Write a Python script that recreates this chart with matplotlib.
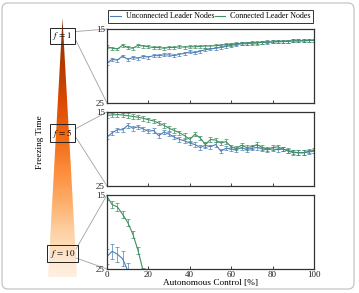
import numpy as np
import matplotlib
matplotlib.use("Agg")
import matplotlib.pyplot as plt
from matplotlib.patches import Polygon, FancyBboxPatch

plt.rcParams['font.family'] = ['Liberation Serif', 'DejaVu Serif']
plt.rcParams['mathtext.fontset'] = 'stix'

# autonomous control [%]
x = np.arange(0, 100.1, 2.5)

# f = 1
unconn_f1 = [19.6, 19.1, 19.2, 18.65, 19.1, 18.85, 18.95, 18.7, 18.8, 18.6, 18.6, 18.5,
             18.5, 18.6, 18.4, 18.3, 18.1, 18.2, 18.0, 17.8, 17.7, 17.6, 17.5, 17.35,
             17.2, 17.1, 17.0, 17.0, 16.9, 16.9, 16.8, 16.8, 16.75, 16.7, 16.7, 16.65,
             16.6, 16.6, 16.6, 16.55, 16.55]
conn_f1 = [17.4, 17.6, 17.7, 17.2, 17.5, 17.6, 17.2, 17.3, 17.4, 17.5, 17.5, 17.6,
           17.5, 17.5, 17.4, 17.45, 17.4, 17.4, 17.35, 17.3, 17.3, 17.25, 17.2, 17.1,
           17.05, 17.0, 16.95, 16.9, 16.85, 16.85, 16.8, 16.75, 16.75, 16.7, 16.7, 16.65,
           16.6, 16.6, 16.6, 16.55, 16.55]

# f = 5
unconn_f5 = [18.4, 17.8, 17.4, 17.4, 16.8, 17.2, 17.0, 17.3, 17.6, 17.5, 18.2, 17.7,
             18.0, 18.4, 18.7, 18.9, 19.2, 19.4, 19.8, 19.5, 19.7, 19.4, 20.3, 19.9,
             20.0, 20.1, 19.8, 20.1, 19.9, 19.8, 20.0, 20.1, 20.0, 20.1, 20.0, 20.3,
             20.5, 20.5, 20.5, 20.4, 20.3]
conn_f5 = [15.45, 15.4, 15.35, 15.4, 15.5, 15.6, 15.7, 15.85, 16.05, 16.2, 16.5, 16.8,
           17.2, 17.5, 17.8, 18.2, 18.7, 18.0, 18.5, 19.4, 18.7, 18.8, 19.2, 19.0,
           19.7, 19.9, 19.5, 19.8, 19.7, 19.4, 19.8, 20.0, 19.8, 19.7, 20.0, 20.2,
           20.4, 20.5, 20.5, 20.3, 20.2]

# f = 10 (the rest leaves the plotted range)
x_f10_unconn = [0, 2.5, 5, 7.5, 10, 12.5]
unconn_f10 = [23.3, 22.6, 23.0, 23.6, 25.2, 27.0]
x_f10_conn = [0, 2.5, 5, 7.5, 10, 12.5, 15, 17.5, 20]
conn_f10 = [15.2, 16.3, 16.6, 17.6, 18.7, 20.3, 22.5, 25.3, 28.0]

err_f1 = 0.2
err_f5 = 0.3
err_f10_unconn = 1.0
err_f10_conn = 0.5

panel_labels = [r'$f\,=\,1$', r'$f\,=\,5$', r'$f\,=\,10$']

blue = '#4f7fb5'
green = '#3f8f62'

W, H = 359, 293
fig = plt.figure(figsize=(W / 100, H / 100), dpi=100)

# background axes in pixel coordinates
bg = fig.add_axes([0, 0, 1, 1], zorder=0)
bg.set_xlim(0, W)
bg.set_ylim(H, 0)
bg.axis('off')

frame = FancyBboxPatch((2, 3), 352, 286, boxstyle='round,pad=0,rounding_size=6',
                       fc='none', ec='#c4c4c4', lw=0.9)
bg.add_patch(frame)

# orange wedge
tip = (62.5, 18)
base_y = 277
tri = Polygon([tip, (48, base_y), (77, base_y)], closed=True, fc='none', ec='none')
bg.add_patch(tri)
t = np.linspace(0, 1, 256)[:, None]
grad = 0.92 - 0.88 * t ** 1.4
img = bg.imshow(grad, cmap='Oranges', vmin=0, vmax=1, aspect='auto',
                extent=[48, 77, base_y, tip[1]], zorder=1)
img.set_clip_path(tri)

panels = [
    (x, unconn_f1, err_f1, x, conn_f1, err_f1),
    (x, unconn_f5, err_f5, x, conn_f5, err_f5),
    (x_f10_unconn, unconn_f10, err_f10_unconn, x_f10_conn, conn_f10, err_f10_conn),
]
tops = [29, 112, 195]
box_y = [36, 133, 253.5]
ax_left, ax_right = 107, 314
ax_h = 74

axes = []
for i, (xu, yu, eu, xc, yc, ec) in enumerate(panels):
    top = tops[i]
    ax = fig.add_axes([ax_left / W, 1 - (top + ax_h) / H, (ax_right - ax_left) / W, ax_h / H],
                      zorder=2)
    ax.errorbar(xu, yu, yerr=eu, color=blue, lw=0.8, elinewidth=0.5, capsize=1.5,
                capthick=0.5, label='Unconnected Leader Nodes')
    ax.errorbar(xc, yc, yerr=ec, color=green, lw=0.8, elinewidth=0.5, capsize=1.5,
                capthick=0.5, label='Connected Leader Nodes')
    ax.set_xlim(0, 100)
    ax.set_ylim(25, 15)
    ax.set_yticks([15, 25])
    ax.set_xticks([0, 20, 40, 60, 80, 100])
    ax.tick_params(direction='in', length=2.5, width=0.6, labelsize=6.5, pad=1.5,
                   colors='#222222')
    if i < 2:
        ax.tick_params(labelbottom=False)
    for s in ax.spines.values():
        s.set_linewidth(0.9)
        s.set_color('#333333')
    axes.append(ax)

    # label box and zoom lines
    cy = box_y[i]
    bg.text(62.5, cy, panel_labels[i], ha='center', va='center', fontsize=6.5, zorder=3,
            bbox=dict(boxstyle='square,pad=0.25', fc='none', ec='#222222', lw=0.7))
    bg.plot([76, ax_left], [cy - 4.5, top], color='#a0a0a0', lw=0.6, zorder=1.5)
    bg.plot([76, ax_left], [cy + 4.5, top + ax_h], color='#a0a0a0', lw=0.6, zorder=1.5)

handles, labels = axes[0].get_legend_handles_labels()
handles = [h[0] for h in handles]
leg = fig.legend(handles, labels, ncol=2, loc='center',
                 bbox_to_anchor=(210.5 / W, 1 - 16.5 / H),
                 fontsize=5.75, frameon=True, fancybox=False, edgecolor='#333333',
                 handlelength=1.3, handletextpad=0.6, columnspacing=0.1, borderpad=0.35,
                 framealpha=1)
leg.get_frame().set_linewidth(0.7)

bg.text(40, 142, 'Freezing Time', rotation=90, ha='center', va='center', fontsize=6.7)
bg.text(210.5, 283, 'Autonomous Control [%]', ha='center', va='center', fontsize=6.7)

fig.savefig('out.png', dpi=100)
